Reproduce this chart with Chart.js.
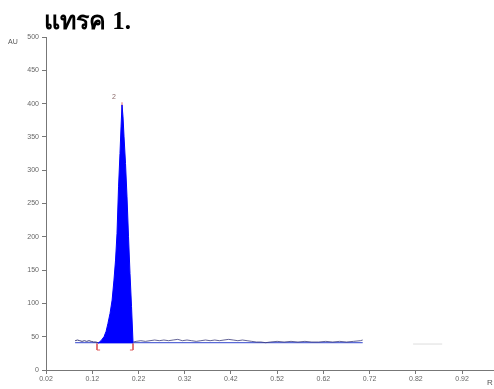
<!DOCTYPE html>
<html>
<head>
<meta charset="utf-8">
<script src="https://cdn.jsdelivr.net/npm/chart.js@4/dist/chart.umd.min.js"></script>
<style>
  html, body { margin: 0; padding: 0; background: #fff; }
  #wrap { position: relative; width: 494px; height: 389px; }
  #title { position: absolute; left: 44px; top: 0px; font-family: "Liberation Serif", "Noto Sans", serif; font-weight: bold; font-size: 25px; color: #000; white-space: nowrap; }
  #au { position: absolute; left: 8px; top: 38px; font-family: "Liberation Sans", Arial, sans-serif; font-size: 7px; color: #555; }
  #rf { position: absolute; left: 487px; top: 378px; font-family: "Liberation Sans", Arial, sans-serif; font-size: 8px; color: #555; }
</style>
</head>
<body>
<div id="wrap">
  <canvas id="c" width="494" height="389"></canvas>
  <div id="title">แทรค 1.</div>
  <div id="au">AU</div>
  <div id="rf">R</div>
</div>
<script>
// ---- data ----
const xTicks = [0.02, 0.12, 0.22, 0.32, 0.42, 0.52, 0.62, 0.72, 0.82, 0.92];
const yTicks = [0, 50, 100, 150, 200, 250, 300, 350, 400, 450, 500];

const peakRf = [0.1325, 0.139, 0.1455, 0.150, 0.154, 0.1585, 0.163, 0.167, 0.1704, 0.1736, 0.1769, 0.180, 0.1823, 0.1844, 0.1866, 0.1888, 0.192, 0.1952, 0.1985, 0.2017, 0.205, 0.2082];
const peakAU = [40, 44, 50, 58, 70, 85, 105, 135, 165, 205, 275, 325, 365, 398, 380, 350, 310, 260, 200, 145, 95, 42];

const traceRf = [0.083, 0.088, 0.093, 0.098, 0.103, 0.108, 0.113, 0.118, 0.123, 0.128, 0.1325,
  0.2085, 0.215, 0.225, 0.235, 0.245, 0.255, 0.265, 0.275, 0.285, 0.295, 0.305, 0.315, 0.325, 0.335, 0.345,
  0.355, 0.365, 0.375, 0.385, 0.395, 0.405, 0.415, 0.425, 0.435, 0.445, 0.455, 0.465, 0.475, 0.485, 0.495,
  0.505, 0.52, 0.535, 0.55, 0.565, 0.58, 0.595, 0.61, 0.625, 0.64, 0.655, 0.67, 0.685, 0.70, 0.705];
const traceAU = [44, 45, 44, 43, 44, 43, 44, 43, 42, 42, 41,
  42, 43, 44, 43, 44, 45, 44, 45, 44, 45, 46, 44, 45, 44, 43,
  44, 45, 44, 45, 44, 45, 46, 45, 44, 45, 44, 43, 42, 42, 41,
  42, 43, 42, 43, 42, 43, 42, 42, 43, 42, 43, 42, 43, 44, 45];

const baseRf = [0.083, 0.705];
const baseAU = [41, 41];

const faintRf = [0.814, 0.877];
const faintAU = [39, 39];

const bracketLRf = [0.1303, 0.1303, 0.137];
const bracketLAU = [40, 30, 30];
const bracketRRf = [0.2082, 0.2082, 0.2015];
const bracketRAU = [40, 30, 30];

const apexRf = [0.1844, 0.1844];
const apexAU = [385, 402];

const peakLabel = { text: "2", rf: 0.167, au: 410 };

const pts = (xs, ys) => xs.map((x, i) => ({ x: x, y: ys[i] }));

const labelPlugin = {
  id: 'peakLabel',
  afterDatasetsDraw(chart) {
    const ctx = chart.ctx;
    const xs = chart.scales.x, ys = chart.scales.y;
    ctx.save();
    ctx.font = '7px "Liberation Sans", Arial, sans-serif';
    ctx.fillStyle = '#8a6a6a';
    ctx.textAlign = 'center';
    ctx.textBaseline = 'middle';
    ctx.fillText(peakLabel.text, xs.getPixelForValue(peakLabel.rf), ys.getPixelForValue(peakLabel.au));
    ctx.restore();
  }
};

const lineDs = (data, color, width, extra) => Object.assign({
  data: data, borderColor: color, borderWidth: width, pointRadius: 0, fill: false, tension: 0
}, extra || {});

new Chart(document.getElementById('c'), {
  type: 'line',
  data: {
    datasets: [
      lineDs(pts(peakRf, peakAU), '#0000ff', 1, { fill: { value: 40 }, backgroundColor: '#0000ff' }),
      lineDs(pts(traceRf.slice(0, 11), traceAU.slice(0, 11)), '#3a3a7a', 1),
      lineDs(pts(traceRf.slice(11), traceAU.slice(11)), '#3a3a7a', 0.8),
      lineDs(pts(baseRf, baseAU), '#5a6ad8', 1.2),
      lineDs(pts(faintRf, faintAU), '#dddddd', 1),
      lineDs(pts(bracketLRf, bracketLAU), '#e06060', 1),
      lineDs(pts(bracketRRf, bracketRAU), '#e06060', 1),
      lineDs(pts(apexRf, apexAU), '#e07070', 1)
    ]
  },
  options: {
    responsive: false,
    animation: false,
    layout: { padding: { top: 37, left: 0, right: 0, bottom: 0 } },
    plugins: { legend: { display: false }, tooltip: { enabled: false } },
    scales: {
      x: {
        type: 'linear',
        min: 0.02,
        max: 0.989,
        afterBuildTicks: (s) => { s.ticks = xTicks.map(v => ({ value: v })); },
        afterFit: (s) => { s.height = 19; },
        ticks: {
          autoSkip: false,
          maxRotation: 0,
          padding: 1,
          color: '#666',
          font: { size: 7, family: '"Liberation Sans", Arial, sans-serif' },
          callback: (v) => Number(v).toFixed(2)
        },
        grid: { display: true, drawOnChartArea: false, drawTicks: true, tickLength: 4, color: '#777' },
        border: { display: true, color: '#777', width: 1 }
      },
      y: {
        type: 'linear',
        min: 0,
        max: 500,
        afterBuildTicks: (s) => { s.ticks = yTicks.map(v => ({ value: v })); },
        afterFit: (s) => { s.width = 46; },
        ticks: {
          autoSkip: false,
          padding: 3,
          color: '#666',
          font: { size: 7, family: '"Liberation Sans", Arial, sans-serif' }
        },
        grid: { display: true, drawOnChartArea: false, drawTicks: true, tickLength: 4, color: '#777' },
        border: { display: true, color: '#777', width: 1 }
      }
    }
  },
  plugins: [labelPlugin]
});
</script>
</body>
</html>
